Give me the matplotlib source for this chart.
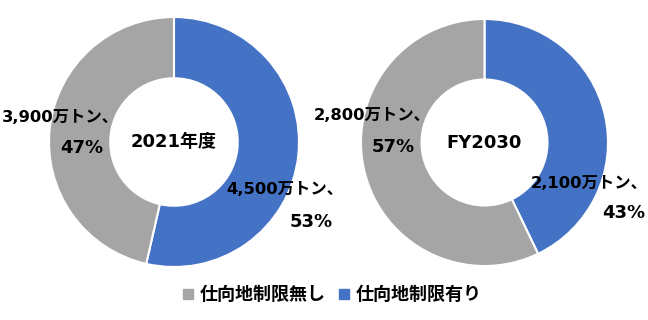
import numpy as np
import matplotlib.pyplot as plt
from matplotlib.patches import Patch

plt.rcParams['font.family'] = ['DejaVu Sans', 'Noto Sans CJK JP']

titles = ['2021年度', 'FY2030']
categories = ['仕向地制限無し', '仕向地制限有り']
restricted = [4500, 2100]      # 万トン, blue
unrestricted = [3900, 2800]    # 万トン, gray
pct_restricted = [53, 43]
pct_unrestricted = [47, 57]
colors = {'有り': '#4472C4', '無し': '#A5A5A5'}

W, H = 648, 320
fig = plt.figure(figsize=(W / 100, H / 100), dpi=100)

# axes boxes in pixels (left, bottom, size)
boxes = [(49, 53, 250), (361, 54, 247)]
# label line positions in pixels from top-left: (x_left, y) for line1 / line2
gray_pos = [((2, 118), (60, 148)), ((314, 115), (372, 147))]
blue_pos = [((226, 190), (290, 222)), ((531, 183), (602, 213))]

def put(xy, s, size):
    fig.text(xy[0] / W, 1 - xy[1] / H, s, ha='left', va='center',
             fontsize=size, fontweight='bold')

for i in range(2):
    x0, y0, s = boxes[i]
    ax = fig.add_axes([x0 / W, y0 / H, s / W, s / H])
    ax.pie([restricted[i], unrestricted[i]],
           colors=[colors['有り'], colors['無し']],
           startangle=90, counterclock=False, radius=1,
           wedgeprops=dict(width=0.49, edgecolor='white', linewidth=1.5))
    ax.set_xlim(-1, 1)
    ax.set_ylim(-1, 1)
    ax.set_aspect('equal')
    ax.axis('off')
    ax.text(0, 0.0, titles[i], ha='center', va='center',
            fontsize=13, fontweight='bold')
    put(gray_pos[i][0], f'{unrestricted[i]:,}万トン、', 11.8)
    put(gray_pos[i][1], f'{pct_unrestricted[i]}%', 13)
    put(blue_pos[i][0], f'{restricted[i]:,}万トン、', 11.8)
    put(blue_pos[i][1], f'{pct_restricted[i]}%', 13)

handles = [Patch(color=colors['無し']), Patch(color=colors['有り'])]
fig.legend(handles, categories, loc='center', bbox_to_anchor=(0.513, 0.077),
           ncol=2, frameon=False, handlelength=0.55, handleheight=0.55,
           handletextpad=0.4, columnspacing=0.7,
           prop=dict(size=13, weight='bold'))

fig.savefig('out.png', dpi=100)
